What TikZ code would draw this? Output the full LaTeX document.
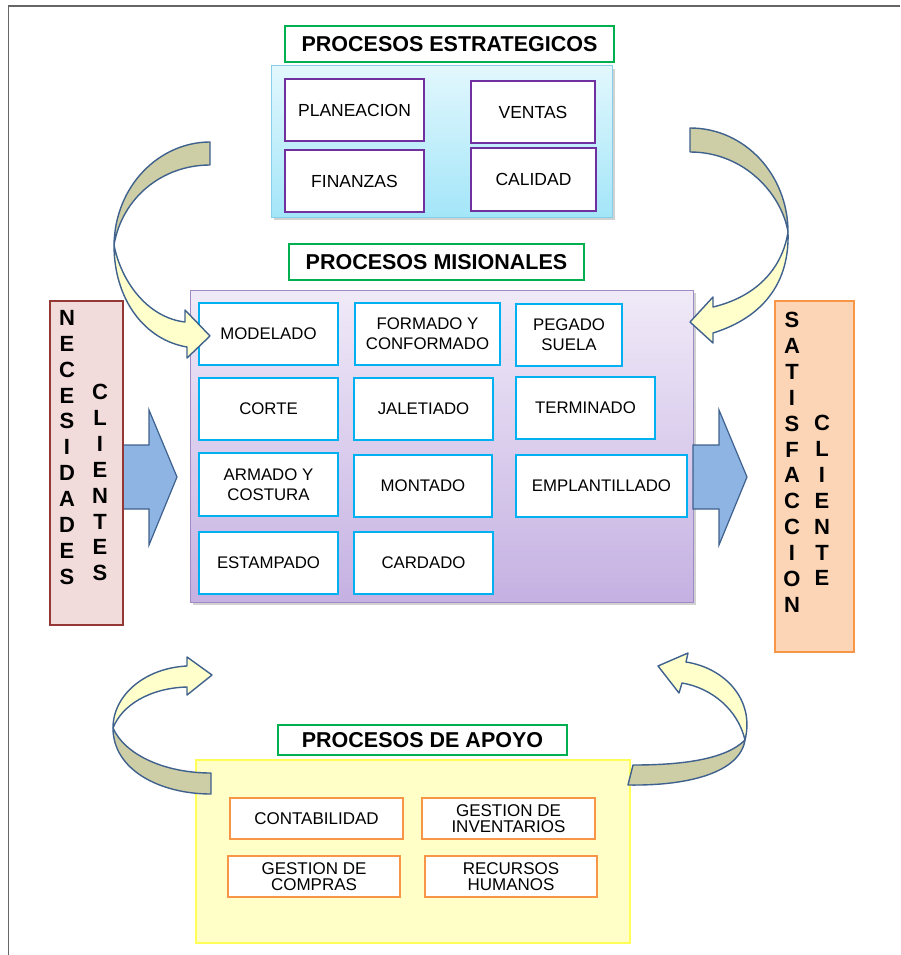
\documentclass[tikz,border=0pt]{standalone}
\usepackage{fontspec}
\setmainfont{Liberation Sans}
\usepackage{xcolor}
\usetikzlibrary{shadows}

\definecolor{verdetit}{HTML}{00B050}
\definecolor{celeste1}{HTML}{E2F7FD}
\definecolor{celeste2}{HTML}{A3E6F9}
\definecolor{celestebd}{HTML}{86CFE6}
\definecolor{morado}{HTML}{7030A0}
\definecolor{lila1}{HTML}{F0EAF8}
\definecolor{lila2}{HTML}{C5B1E2}
\definecolor{lilabd}{HTML}{9F8AC6}
\definecolor{cian}{HTML}{00B0F0}
\definecolor{rosa}{HTML}{F2DCDB}
\definecolor{granate}{HTML}{953735}
\definecolor{durazno}{HTML}{FBD5B5}
\definecolor{naranja}{HTML}{F79646}
\definecolor{amarillo}{HTML}{FFFFC7}
\definecolor{amarillobd}{HTML}{FFFF57}
\definecolor{azulflecha}{HTML}{8DB4E2}
\definecolor{azulborde}{HTML}{3F618D}
\definecolor{crema}{HTML}{FFFFCC}
\definecolor{oliva}{HTML}{CDCDA6}

\tikzset{
	titulo/.style={draw=verdetit, line width=1.6pt, fill=white, inner sep=0pt, font=\bfseries\fontsize{21.5}{24}\selectfont},
	cajaest/.style={draw=morado, line width=2.6pt, fill=white, inner sep=0pt, align=center, font=\fontsize{17.5}{20}\selectfont},
	cajamis/.style={draw=cian, line width=2.8pt, fill=white, inner sep=0pt, align=center, font=\fontsize{16.8}{20}\selectfont},
	cajaapo/.style={draw=naranja, line width=2.2pt, fill=white, inner sep=0pt, align=center, font=\fontsize{17}{16.5}\selectfont},
	letras/.style={anchor=north, inner sep=0pt, align=center, font=\bfseries\fontsize{22}{25.9}\selectfont},
	bloque/.style={fill=azulflecha, draw=azulborde, line width=1.2pt, line join=miter},
	cinta/.style={draw=azulborde, line width=1.4pt, line join=round},
	sombra/.style={drop shadow={shadow xshift=3pt, shadow yshift=-3pt, opacity=0.3, fill=black!60}}
}

\begin{document}
\begin{tikzpicture}[x=1pt, y=-1pt]
	\useasboundingbox (0,0) rectangle (900,955);
	\draw[black!60, line width=1.5pt] (8.5,955) -- (8.5,6) -- (900,6);

	% procesos estrategicos
	\node[titulo, minimum width=329pt, minimum height=36pt] (titest) at (449.5,44) {PROCESOS ESTRATEGICOS};
	\node[sombra, draw=celestebd, line width=1pt, top color=celeste1, bottom color=celeste2, minimum width=341pt, minimum height=151pt] (estrategicos) at (441.5,141.5) {};
	\node[cajaest, minimum width=139pt, minimum height=62pt] (planeacion) at (354.5,110) {PLANEACION};
	\node[cajaest, minimum width=124pt, minimum height=62pt] (ventas) at (533,112) {VENTAS};
	\node[cajaest, minimum width=139pt, minimum height=62pt] (finanzas) at (354.5,181) {FINANZAS};
	\node[cajaest, minimum width=125pt, minimum height=63pt] (calidad) at (533.5,179.5) {CALIDAD};

	% procesos misionales
	\node[titulo, minimum width=295pt, minimum height=36pt] (titmis) at (436.5,262) {PROCESOS MISIONALES};
	\node[sombra, draw=lilabd, line width=1pt, top color=lila1, bottom color=lila2, minimum width=503pt, minimum height=312pt] (misionales) at (441.5,446) {};
	\node[cajamis, minimum width=139pt, minimum height=62pt] (modelado) at (268.5,334) {MODELADO};
	\node[cajamis, minimum width=145pt, minimum height=62pt] (formado) at (427.5,334) {FORMADO Y\\CONFORMADO};
	\node[cajamis, minimum width=106pt, minimum height=62pt] (pegado) at (569,335) {PEGADO\\SUELA};
	\node[cajamis, minimum width=139pt, minimum height=62pt] (corte) at (268.5,409) {CORTE};
	\node[cajamis, minimum width=139pt, minimum height=62pt] (jaletiado) at (423.5,409) {JALETIADO};
	\node[cajamis, minimum width=139pt, minimum height=62pt] (terminado) at (585.5,408) {TERMINADO};
	\node[cajamis, minimum width=139pt, minimum height=63pt] (armado) at (268.5,484.5) {ARMADO Y\\COSTURA};
	\node[cajamis, minimum width=138pt, minimum height=62pt] (montado) at (423,486) {MONTADO};
	\node[cajamis, minimum width=171pt, minimum height=62pt] (emplantillado) at (601.5,486) {EMPLANTILLADO};
	\node[cajamis, minimum width=139pt, minimum height=62pt] (estampado) at (268.5,563) {ESTAMPADO};
	\node[cajamis, minimum width=139pt, minimum height=62pt] (cardado) at (423.5,563) {CARDADO};

	% entradas y salidas
	\draw[bloque] (123,445) -- (149,445) -- (149,410) -- (177,477) -- (149,545) -- (149,509) -- (123,509) -- cycle;
	\draw[bloque] (693,445) -- (719,445) -- (719,410) -- (747,477) -- (719,545) -- (719,509) -- (693,509) -- cycle;
	\node[draw=granate, line width=2.6pt, fill=rosa, minimum width=73pt, minimum height=324pt] (necesidades) at (86.5,463) {};
	\node[letras] (necesidadesl) at (67,310) {N\\E\\C\\E\\S\\I\\D\\A\\D\\E\\S};
	\node[letras] (clientesl) at (100,384) {C\\L\\I\\E\\N\\T\\E\\S};
	\node[draw=naranja, line width=2.6pt, fill=durazno, minimum width=79pt, minimum height=351pt] (satisfaccion) at (814.5,476.5) {};
	\node[letras] (satisfaccionl) at (792,312) {S\\A\\T\\I\\S\\F\\A\\C\\C\\I\\O\\N};
	\node[letras] (clientel) at (822,415) {C\\L\\I\\E\\N\\T\\E};

	% procesos de apoyo
	\node[titulo, minimum width=289pt, minimum height=30pt] (titapo) at (422.5,740) {PROCESOS DE APOYO};
	\node[draw=amarillobd, line width=2pt, fill=amarillo, minimum width=434pt, minimum height=183pt] (apoyo) at (413,851.5) {};
	\node[cajaapo, minimum width=173pt, minimum height=41pt] (contabilidad) at (316.5,818.5) {CONTABILIDAD};
	\node[cajaapo, minimum width=173pt, minimum height=41pt] (inventarios) at (508.5,818.5) {GESTION DE\\INVENTARIOS};
	\node[cajaapo, minimum width=172pt, minimum height=41pt] (compras) at (314,876.5) {GESTION DE\\COMPRAS};
	\node[cajaapo, minimum width=172pt, minimum height=41pt] (recursos) at (511,876.5) {RECURSOS\\HUMANOS};

	% flechas curvas
	\draw[cinta, fill=oliva] (210,142) .. controls (160,142) and (115,185) .. (114,245) .. controls (122,198) and (162,165) .. (210,165) -- cycle;
	\draw[cinta, fill=crema] (114,245) .. controls (114,300) and (145,340) .. (187,347) -- (187,358) -- (210,336) -- (185,310) -- (185,322) .. controls (150,318) and (122,285) .. (114,245) -- cycle;

	\draw[cinta, fill=oliva] (690,128) .. controls (745,128) and (788,175) .. (788,232) .. controls (782,195) and (745,152) .. (690,152) -- cycle;
	\draw[cinta, fill=crema] (788,232) .. controls (790,290) and (755,320) .. (713,333) -- (713,343) -- (690,322) -- (713,297) -- (713,307) .. controls (755,297) and (782,270) .. (788,232) -- cycle;

	\draw[cinta, fill=oliva] (211,794) .. controls (160,794) and (113,770) .. (113,728) .. controls (125,755) and (165,773) .. (211,773) -- cycle;
	\draw[cinta, fill=crema] (113,728) .. controls (113,695) and (145,668) .. (187,666) -- (187,657) -- (212,675) -- (187,695) -- (187,687) .. controls (150,688) and (122,705) .. (113,728) -- cycle;

	\draw[cinta, fill=oliva] (628,785) .. controls (690,786) and (740,772) .. (745,740) .. controls (725,760) and (680,765) .. (633,765) -- cycle;
	\draw[cinta, fill=crema] (745,740) .. controls (755,700) and (725,668) .. (686,662) -- (688,653) -- (658,666) -- (679,693) -- (682,683) .. controls (712,688) and (738,710) .. (745,740) -- cycle;
\end{tikzpicture}
\end{document}
